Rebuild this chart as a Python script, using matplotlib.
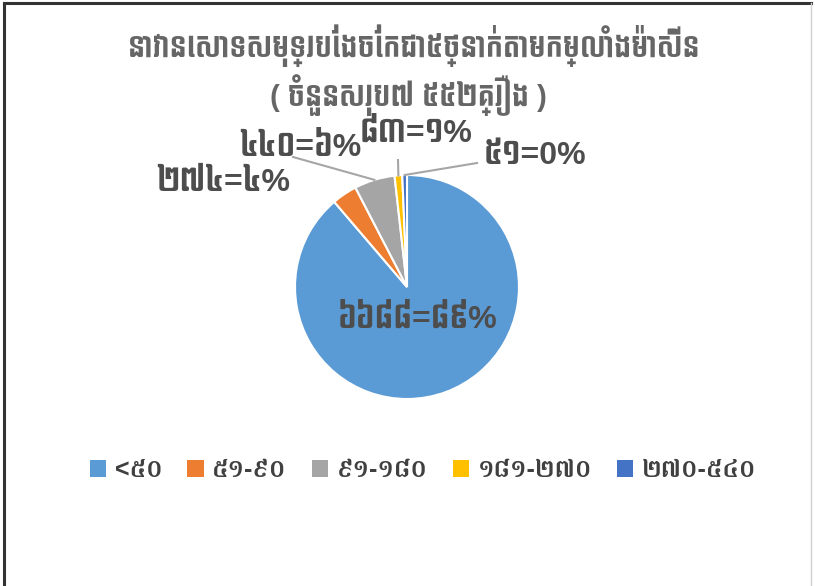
import matplotlib
matplotlib.use("Agg")
import matplotlib.pyplot as plt
from matplotlib.lines import Line2D
from matplotlib.patches import Patch
import numpy as np

# ---- data ----
categories = ["<៥០", "៥១-៩០", "៩១-១៨០", "១៨១-២៧០", "២៧០-៥៤០"]
values = [6688, 274, 440, 83, 51]
value_labels = ["៦៦៨៨", "២៧៤", "៤៤០", "៨៣", "៥១"]
percent_labels = ["៨៩%", "៤%", "៦%", "១%", "0%"]
title_line1 = "នាវានេសាទសមុទ្របែងចែកជា៥ថ្នាក់តាមកម្លាំងម៉ាស៊ីន"
title_line2 = "( ចំនួនសរុប៧ ៥៥២គ្រឿង )"

colors = ["#5B9BD5", "#ED7D31", "#A5A5A5", "#FFC000", "#4472C4"]

W, H = 815, 586
fig = plt.figure(figsize=(W / 100, H / 100), dpi=100)
fig.patch.set_facecolor("white")

# pie placement (pixels)
cx, cy, R = 407, 287, 112
ax = fig.add_axes([(cx - R) / W, (H - cy - R) / H, 2 * R / W, 2 * R / H])
wedges, _ = ax.pie(values, colors=colors, startangle=90, counterclock=False,
                   radius=1.0, wedgeprops=dict(edgecolor="white", linewidth=1.5))
ax.set_xlim(-1, 1)
ax.set_ylim(-1, 1)
ax.set_aspect("equal")
ax.axis("off")

def px2d(x, y):
    return ((x - cx) / R, (cy - y) / R)

title_font = ["Liberation Sans", "Bayon"]
label_font = ["Liberation Sans", "Bayon"]
legend_font = ["Liberation Sans", "Battambang"]

# data label layout (pixel centers) and leader anchors
label_pos = [(417, 320), (223, 183), (300, 148), (416, 134), (535, 156)]
leader_anchor = [None, None, (293, 157), (398, 160), (477, 163)]

for i, w in enumerate(wedges):
    txt = f"{value_labels[i]}={percent_labels[i]}"
    lx, ly = px2d(*label_pos[i])
    ax.text(lx, ly, txt, ha="center", va="center", fontsize=23, weight="bold",
            color="#4d4d4d", family=label_font, clip_on=False)
    if leader_anchor[i] is not None:
        mid = np.deg2rad((w.theta1 + w.theta2) / 2)
        ex, ey = np.cos(mid), np.sin(mid)
        ax_, ay_ = px2d(*leader_anchor[i])
        ax.add_line(Line2D([ax_, ex], [ay_, ey], color="#A6A6A6", lw=1.5, clip_on=False))

# titles
fig.text(414 / W, 1 - 46 / H, title_line1, ha="center", va="center", fontsize=21,
         color="#666666", family=title_font, weight="bold")
fig.text(408 / W, 1 - 95 / H, title_line2, ha="center", va="center", fontsize=21,
         color="#666666", family=title_font, weight="bold")

# legend
handles = [Patch(facecolor=c, edgecolor="none") for c in colors]
leg = fig.legend(handles, categories, loc="center", bbox_to_anchor=(423 / W, 1 - 470 / H),
                 ncol=5, frameon=False, handlelength=0.65, handleheight=0.65,
                 handletextpad=0.35, columnspacing=1.0,
                 prop=dict(family=legend_font, size=18, weight="bold"))
for t in leg.get_texts():
    t.set_color("#404040")

# outer frame
fig.add_artist(Line2D([4 / W, 811 / W], [1 - 3 / H, 1 - 3 / H], color="#333333", lw=2.2))
fig.add_artist(Line2D([4 / W, 4 / W], [0, 1 - 3 / H], color="#333333", lw=2.2))
fig.add_artist(Line2D([811 / W, 811 / W], [0, 1 - 3 / H], color="#d0d0d0", lw=1))

fig.savefig("out.png", dpi=100, facecolor="white")
